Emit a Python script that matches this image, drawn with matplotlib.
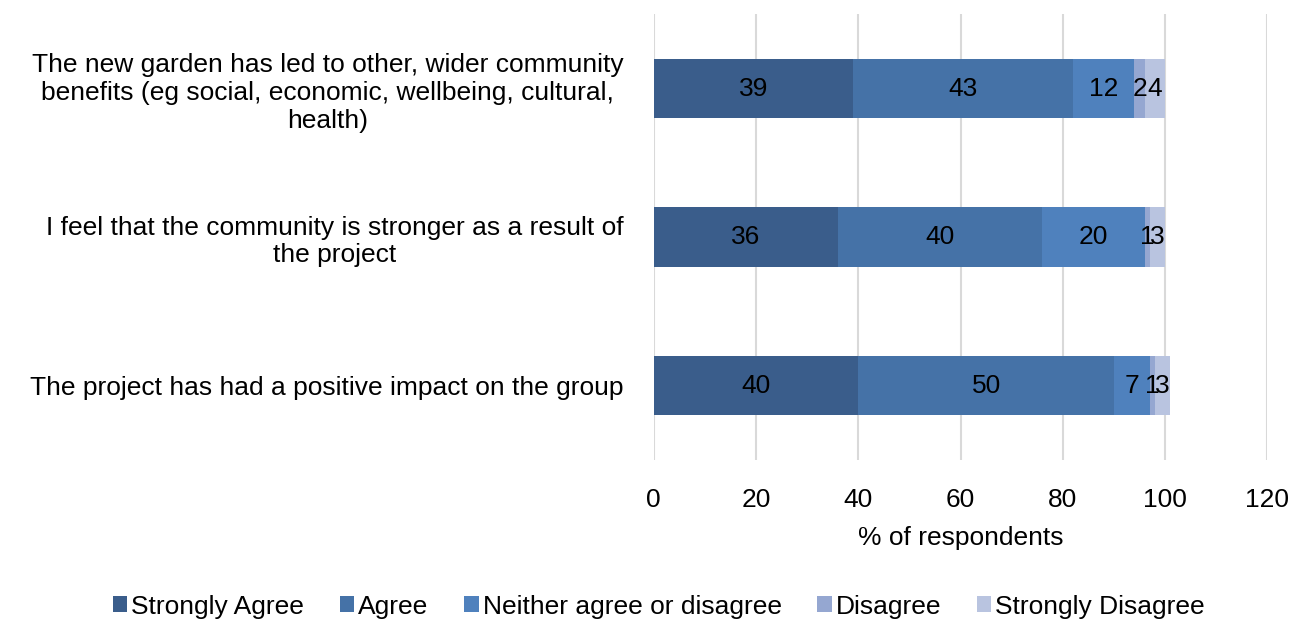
import matplotlib.pyplot as plt
import numpy as np

plt.rcParams['font.family'] = ['Liberation Sans', 'DejaVu Sans']

statements = [
    'The project has had a positive impact on the group',
    'I feel that the community is stronger as a result of\nthe project',
    'The new garden has led to other, wider community\nbenefits (eg social, economic, wellbeing, cultural,\nhealth)',
]
responses = ['Strongly Agree', 'Agree', 'Neither agree or disagree', 'Disagree', 'Strongly Disagree']
strongly_agree = [40, 36, 39]
agree = [50, 40, 43]
neither = [7, 20, 12]
disagree = [1, 1, 2]
strongly_disagree = [3, 3, 4]
colors = ['#3a5d8b', '#4572a7', '#4f81bd', '#95a7d1', '#b9c4e0']

series = [strongly_agree, agree, neither, disagree, strongly_disagree]
fs = 19

fig = plt.figure(figsize=(12.92, 6.19), dpi=100)
ax = fig.add_axes([0.506, 0.257, 0.475, 0.72])

y = np.arange(len(statements))
left = np.zeros(len(statements))
for vals, name, c in zip(series, responses, colors):
    bars = ax.barh(y, vals, left=left, height=0.4, color=c, label=name, zorder=2)
    ax.bar_label(bars, labels=[str(v) for v in vals], label_type='center',
                 fontsize=fs, color='black')
    left += np.array(vals)

ax.set_xlim(0, 120)
ax.set_ylim(-0.5, 2.5)
ax.set_xticks(range(0, 121, 20))
ax.set_yticks(y)
ax.set_yticklabels(statements, fontsize=fs, multialignment='center')
ax.tick_params(axis='x', labelsize=fs, length=0, pad=20)
ax.tick_params(axis='y', length=0, pad=22)
ax.grid(axis='x', color='#d9d9d9', linewidth=1.5, zorder=0)
for s in ax.spines.values():
    s.set_visible(False)
ax.set_xlabel('% of respondents', fontsize=fs, labelpad=10)

fig.legend(loc='lower center', bbox_to_anchor=(0.51, -0.038), ncol=5, frameon=False,
           fontsize=fs, handlelength=0.55, handleheight=0.55, handletextpad=0.15,
           columnspacing=1.35)

fig.savefig('out.png', dpi=100)
